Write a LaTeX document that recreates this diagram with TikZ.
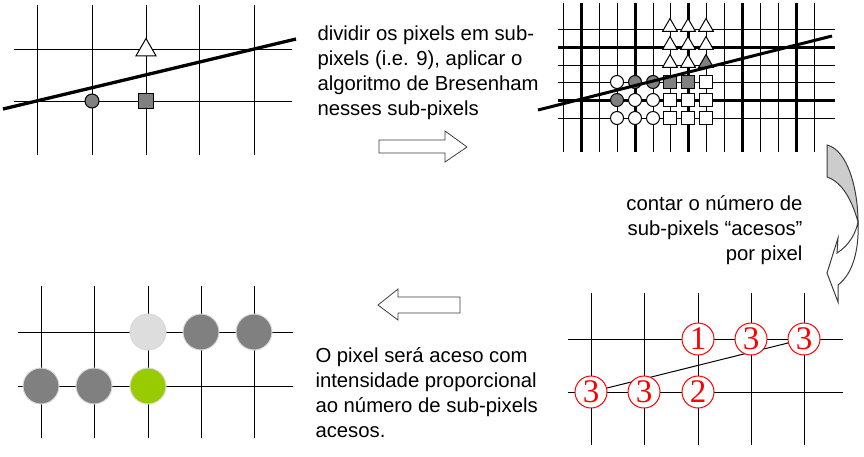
\documentclass[tikz,border=0pt]{standalone}
\usepackage{fontspec}
\setmainfont{Liberation Sans}
\newfontfamily\countfont{Liberation Serif}
\usetikzlibrary{shapes.geometric}
\definecolor{markgray}{RGB}{128,128,128}
\definecolor{palegray}{RGB}{221,221,221}
\definecolor{litgreen}{RGB}{153,204,0}
\definecolor{facegray}{RGB}{204,204,204}
\definecolor{edgegray}{RGB}{60,60,60}
\tikzset{
  pixdot/.style={circle,draw,fill=markgray,inner sep=0pt,minimum size=14pt},
  pixsq/.style={rectangle,draw,fill=markgray,inner sep=0pt,minimum size=15pt},
  pixtri/.style={regular polygon,regular polygon sides=3,draw,fill=white,inner sep=0pt,minimum size=23pt},
  subdot/.style={circle,draw,fill=white,inner sep=0pt,minimum size=13pt},
  subsq/.style={rectangle,draw,fill=white,inner sep=0pt,minimum size=13.5pt},
  subtri/.style={regular polygon,regular polygon sides=3,draw,fill=white,inner sep=0pt,minimum size=17pt},
  lit/.style={fill=markgray},
  count/.style={circle,draw=red,fill=white,text=red,inner sep=0pt,minimum size=32pt,
    font=\countfont\fontsize{33}{33}\selectfont},
  shade/.style={circle,inner sep=0pt,minimum size=36pt,draw=black!15},
  say/.style={inner sep=0pt,align=left,font=\fontsize{20.3}{24.7}\selectfont},
  block/.style={draw=edgegray,fill=white,line width=0.8pt}
}
\begin{document}
\begin{tikzpicture}[x=1pt,y=-1pt,line width=1pt]
      \useasboundingbox (0,0) rectangle (864,456);
      \draw (37,5) -- (37,155) (92,5) -- (92,155) (146,5) -- (146,155)
        (199,5) -- (199,155) (254,5) -- (254,155);
      \draw (14,49) -- (292,49) (14,101) -- (292,101);
      \draw[line width=3.3pt] (3,109) -- (296,39);
      \draw
        (146,50) node[pixtri] (a1){}
        (92,101) node[pixdot] (a2){}
        (146,101) node[pixsq] (a3){};
      \draw (563,3) -- (563,152) (599,3) -- (599,152) (617,3) -- (617,152)
        (653,3) -- (653,152) (670,3) -- (670,152) (706,3) -- (706,152)
        (724,3) -- (724,152) (760,3) -- (760,152) (778,3) -- (778,152)
        (814,3) -- (814,152);
      \draw (558,29) -- (835,29) (558,65) -- (835,65) (558,82) -- (835,82)
        (558,118) -- (835,118);
      \begin{scope}[line width=3pt]
        \draw (581,3) -- (581,152) (635,3) -- (635,152) (688,3) -- (688,152)
          (742,3) -- (742,152) (796,3) -- (796,152);
        \draw (558,47) -- (835,47) (558,100) -- (835,100);
      \end{scope}
      \draw
        (617,82) node[subdot] (b1){}
        (635,82) node[subdot,lit] (b2){}
        (653,82) node[subdot,lit] (b3){}
        (617,100) node[subdot,lit] (b4){}
        (635,100) node[subdot] (b5){}
        (653,100) node[subdot] (b6){}
        (617,118) node[subdot] (b7){}
        (635,118) node[subdot] (b8){}
        (653,118) node[subdot] (b9){}
        (670,82) node[subsq,lit] (s1){}
        (688,82) node[subsq,lit] (s2){}
        (706,82) node[subsq] (s3){}
        (670,100) node[subsq] (s4){}
        (688,100) node[subsq] (s5){}
        (706,100) node[subsq] (s6){}
        (670,118) node[subsq] (s7){}
        (688,118) node[subsq] (s8){}
        (706,118) node[subsq] (s9){}
        (670,27) node[subtri] (t1){}
        (688,27) node[subtri] (t2){}
        (706,27) node[subtri] (t3){}
        (670,45) node[subtri] (t4){}
        (688,45) node[subtri] (t5){}
        (706,45) node[subtri] (t6){}
        (670,63) node[subtri] (t7){}
        (688,63) node[subtri] (t8){}
        (706,63) node[subtri,lit] (t9){};
      \draw[line width=3pt] (538,110) -- (832,36);
      \node[say,anchor=base west] (step1) at (317,115)
        {dividir os pixels em sub-\\pixels (i.e. 9), aplicar o\\algoritmo de Bresenham\\nesses sub-pixels};
      \draw[block] (379,140) -- (445,140) -- (445,131) -- (467,147) -- (445,162)
        -- (445,153) -- (379,153) -- cycle;
      \filldraw[fill=facegray,draw=edgegray] (827,145) .. controls (848,150) and (858,190) .. (858,222)
        .. controls (852,200) and (842,182) .. (827,177) -- cycle;
      \filldraw[fill=white,draw=edgegray] (858,222) .. controls (859,245) and (855,272) .. (838,285)
        -- (838,302) -- (827,273) -- (838,238) -- (837,253)
        .. controls (850,245) and (856,232) .. (858,222) -- cycle;
      \node[say,align=right,anchor=base east] (step2) at (803,260)
        {contar o número de\\sub-pixels “acesos”\\por pixel};
      \draw (591,293) -- (591,445) (644,293) -- (644,445) (698,293) -- (698,445)
        (751,293) -- (751,445) (804,293) -- (804,445);
      \draw (568,339) -- (843,339) (568,392) -- (843,392);
      \coordinate (c1) at (591,392);
      \coordinate (c6) at (804,339);
      \draw (c1) -- (c6);
      \draw
        (698,339) node[count] (n1){1}
        (751,339) node[count] (n2){3}
        (804,339) node[count] (n3){3}
        (591,392) node[count] (n4){3}
        (644,392) node[count] (n5){3}
        (698,392) node[count] (n6){2};
      \draw[block] (460,297) -- (398,297) -- (398,289) -- (378,305) -- (398,320)
        -- (398,313) -- (460,313) -- cycle;
      \node[say,anchor=base west] (step3) at (315,437)
        {O pixel será aceso com\\intensidade proporcional\\ao número de sub-pixels\\acesos.};
      \draw (41,286) -- (41,438) (94,286) -- (94,438) (148,286) -- (148,438)
        (201,286) -- (201,438) (254,286) -- (254,438);
      \draw (18,332) -- (293,332) (18,386) -- (293,386);
      \draw
        (148,332) node[shade,fill=palegray] (d1){}
        (201,332) node[shade,fill=markgray] (d2){}
        (254,332) node[shade,fill=markgray] (d3){}
        (41,386) node[shade,fill=markgray] (d4){}
        (94,386) node[shade,fill=markgray] (d5){}
        (148,386) node[shade,fill=litgreen] (d6){};
    \end{tikzpicture}
\end{document}
